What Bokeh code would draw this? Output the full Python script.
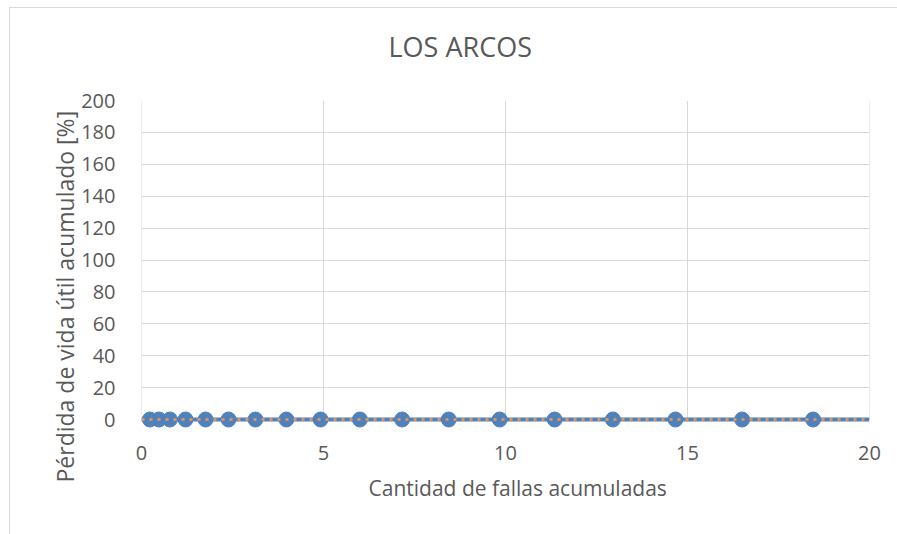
from bokeh.plotting import figure
from bokeh.models import Range1d, FixedTicker, Title
from bokeh.embed import file_html
from bokeh.resources import INLINE

title_text = "LOS ARCOS"
x_label = "Cantidad de fallas acumuladas"
y_label = "Pérdida de vida útil acumulado [%]"

fallas = [0.23, 0.48, 0.78, 1.21, 1.76, 2.39, 3.13, 3.98, 4.92, 6.00, 7.16,
          8.44, 9.84, 11.35, 12.95, 14.67, 16.50, 18.45]
perdida = [0] * len(fallas)
linea_x = [0, 20]
linea_y = [0, 0]
tendencia_y = [0, 0]

x_ticks = [0, 5, 10, 15, 20]
y_ticks = list(range(0, 201, 20))

FONT = "Open Sans"
TXT = "#595959"
GRID = "#d9d9d9"

p = figure(width=888, height=542, output_backend="svg", toolbar_location=None,
           x_range=Range1d(0, 20), y_range=Range1d(-5.64, 200),
           min_border_left=132, min_border_right=28, min_border_top=108,
           min_border_bottom=106)
p.styles = {
    "margin-left": "9px",
    "margin-top": "-8px",
    "background-color": "white",
    "background-image": "linear-gradient(#d9d9d9, #d9d9d9), linear-gradient(#d9d9d9, #d9d9d9)",
    "background-size": "100% 1px, 1px 100%",
    "background-position": "0 15px, 0 15px",
    "background-repeat": "no-repeat",
}
p.outline_line_color = None
p.background_fill_color = "white"
p.border_fill_color = None

p.xaxis.ticker = FixedTicker(ticks=x_ticks)
p.yaxis.ticker = FixedTicker(ticks=y_ticks)
for ax in (p.xaxis, p.yaxis):
    ax.axis_line_color = None
    ax.major_tick_line_color = None
    ax.minor_tick_line_color = None
    ax.major_label_text_font = FONT
    ax.major_label_text_font_size = "20px"
    ax.major_label_text_color = TXT
p.xaxis.major_label_standoff = 11
p.yaxis.major_label_standoff = 20

p.xgrid.grid_line_color = None
p.ygrid.grid_line_color = GRID
p.ygrid.grid_line_width = 1
p.segment(x0=x_ticks, y0=[y_ticks[0]] * len(x_ticks), x1=x_ticks,
          y1=[y_ticks[-1]] * len(x_ticks), line_color=GRID, line_width=1)

p.line(linea_x, linea_y, line_color="#4F81BD", line_width=4)
p.scatter(fallas, perdida, size=15, fill_color="#4F81BD", line_color="#4F81BD")
p.line(linea_x, tendencia_y, line_color="#F79646", line_width=2.5, line_dash="3 5")

p.add_layout(Title(text=title_text, align="left", offset=247, vertical_align="top",
                   standoff=67, text_font=FONT, text_font_size="27px",
                   text_color=TXT, text_font_style="normal"), "above")
p.add_layout(Title(text=x_label, align="left", offset=227, vertical_align="top",
                   standoff=22, text_font=FONT, text_font_size="21px",
                   text_color=TXT, text_font_style="normal"), "below")
p.add_layout(Title(text=y_label, align="left", offset=-54, vertical_align="bottom",
                   standoff=-4, text_font=FONT, text_font_size="23px",
                   text_color=TXT, text_font_style="normal"), "left")

open("out.html", "w").write(file_html(p, INLINE))
